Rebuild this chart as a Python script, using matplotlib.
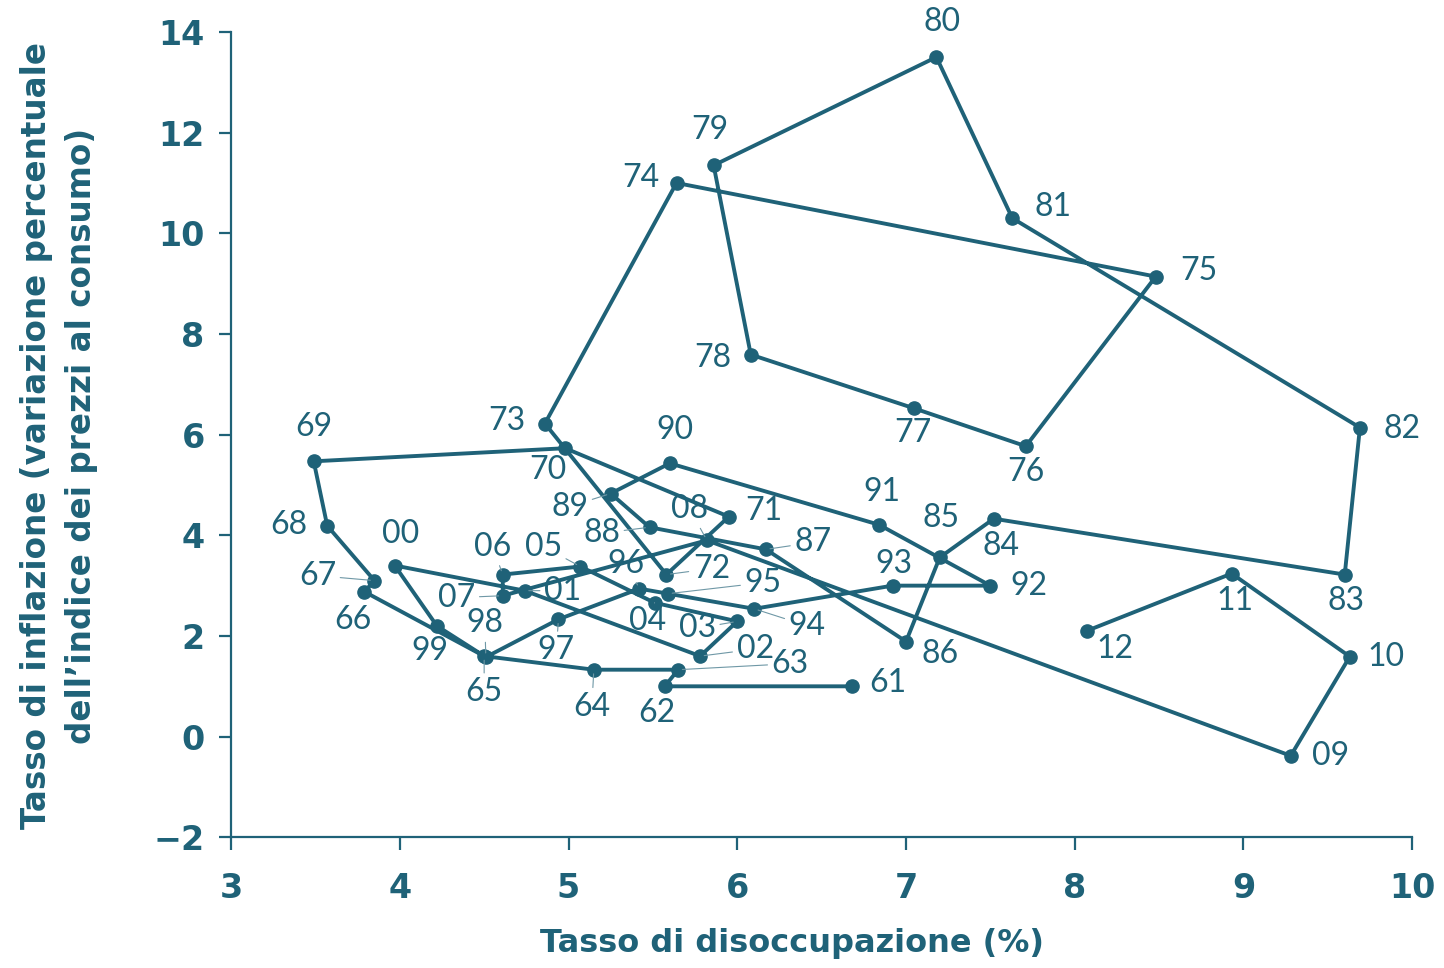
import numpy as np
import matplotlib.pyplot as plt

# anni 1961-2012: tasso di disoccupazione e inflazione
years = ['61', '62', '63', '64', '65', '66', '67', '68', '69', '70',
         '71', '72', '73', '74', '75', '76', '77', '78', '79', '80',
         '81', '82', '83', '84', '85', '86', '87', '88', '89', '90',
         '91', '92', '93', '94', '95', '96', '97', '98', '99', '00',
         '01', '02', '03', '04', '05', '06', '07', '08', '09', '10',
         '11', '12']
unemployment = [6.68, 5.57, 5.65, 5.15, 4.50, 3.79, 3.85, 3.57, 3.49, 4.98,
                5.95, 5.58, 4.86, 5.64, 8.48, 7.71, 7.05, 6.08, 5.86, 7.18,
                7.63, 9.69, 9.60, 7.52, 7.20, 7.00, 6.17, 5.48, 5.25, 5.60,
                6.84, 7.50, 6.92, 6.10, 5.59, 5.42, 4.94, 4.51, 4.22, 3.97,
                4.74, 5.78, 6.00, 5.51, 5.07, 4.61, 4.61, 5.82, 9.28, 9.63,
                8.93, 8.07]
inflation = [1.00, 1.00, 1.33, 1.33, 1.60, 2.88, 3.10, 4.19, 5.47, 5.73,
             4.37, 3.22, 6.22, 11.00, 9.14, 5.77, 6.52, 7.59, 11.35, 13.50,
             10.30, 6.14, 3.22, 4.33, 3.56, 1.89, 3.72, 4.16, 4.83, 5.43,
             4.21, 3.00, 3.00, 2.54, 2.84, 2.94, 2.33, 1.58, 2.20, 3.40,
             2.90, 1.60, 2.29, 2.66, 3.38, 3.22, 2.80, 3.90, -0.38, 1.59,
             3.24, 2.10]

# posizione delle etichette (offset in pixel) e linee guida
label_dx = [36, -8, 112, -2, 0, -11, -57, -38, 0, -17,
            35, 45, -38, -36, 43, 0, -2, -38, -4, 6,
            41, 42, 1, 7, 1, 34, 47, -48, -41, 5,
            3, 38, 1, 53, 95, -13, -2, -1, -7, 6,
            38, 55, -40, -7, -37, -10, -46, -17, 40, 36,
            3, 28]
label_dy = [3, -27, 6, -37, -36, -28, 5, 1, 34, -22,
            6, 6, 3, 5, 6, -26, -25, -3, 35, 35,
            11, -1, -26, -27, 39, -12, 7, -6, -13, 33,
            33, 0, 22, -17, 11, 25, -31, 34, -25, 32,
            0, 7, -7, -18, 20, 28, -2, 31, 0, 0,
            -27, -18]
leader = {'63', '64', '65', '67', '72', '87', '88', '89', '94', '95', '96',
          '97', '98', '01', '02', '03', '04', '05', '06', '07', '08'}

color = '#1f6278'

fig = plt.figure(figsize=(14.44, 9.68), dpi=100)
ax = fig.add_axes([0.16, 0.135, 0.818, 0.832])

ax.plot(unemployment, inflation, color=color, lw=2.8, marker='o',
        markersize=9.5, clip_on=False, zorder=3)

for yr, x, y, dx, dy in zip(years, unemployment, inflation, label_dx, label_dy):
    arrow = None
    if yr in leader:
        arrow = dict(arrowstyle='-', color='#6f98a6', lw=0.8, shrinkA=1, shrinkB=3)
    ax.annotate(yr, xy=(x, y), xytext=(dx, dy), textcoords='offset pixels',
                ha='center', va='center', fontsize=23, color=color,
                family='Lato', zorder=4, arrowprops=arrow)

ax.set_xlim(3, 10)
ax.set_ylim(-2, 14)
ax.set_xticks(np.arange(3, 11, 1))
ax.set_yticks(np.arange(-2, 15, 2))
ax.set_yticklabels(['\u22122' if v == -2 else str(v) for v in range(-2, 15, 2)])

for side in ['top', 'right']:
    ax.spines[side].set_visible(False)
for side in ['left', 'bottom']:
    ax.spines[side].set_color(color)
    ax.spines[side].set_linewidth(1.6)

ax.tick_params(direction='out', length=9, width=1.6, color=color,
               labelcolor=color, labelsize=24)
ax.tick_params(axis='x', pad=16)
ax.tick_params(axis='y', pad=10)
for lab in ax.get_xticklabels() + ax.get_yticklabels():
    lab.set_fontweight('heavy')

fig.text(792 / 1444, 0.025, 'Tasso di disoccupazione (%)', ha='center', va='center',
         fontsize=23, fontweight='bold', color=color)
fig.text(0.041, 0.55, 'Tasso di inflazione (variazione percentuale\ndell\u2019indice dei prezzi al consumo)',
         ha='center', va='center', rotation=90, fontsize=23.5, fontweight='bold',
         color=color, linespacing=1.45)

fig.savefig('out.png', dpi=100)
